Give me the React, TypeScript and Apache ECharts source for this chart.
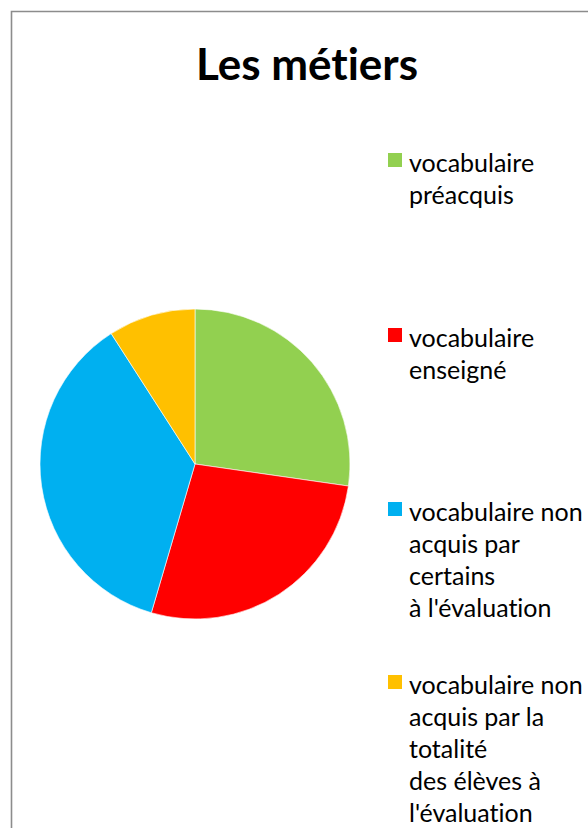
import React, { useEffect, useRef } from "react";
import * as echarts from "echarts";

const titleText = "Les métiers";
const categories = [
  "vocabulaire\npréacquis",
  "vocabulaire\nenseigné",
  "vocabulaire non\nacquis par\ncertains\nà l'évaluation",
  "vocabulaire non\nacquis par la\ntotalité\ndes élèves à\nl'évaluation",
];
const values = [12, 12, 16, 4];
const colors = ["#92D050", "#FF0000", "#00B0F0", "#FFC000"];
const iconTops = [153, 328, 502, 675];

const LINE_H = 32;
const ICON = 14;
const ICON_OFF = 7;

export default function App() {
  const ref = useRef<HTMLDivElement>(null);
  useEffect(() => {
    if (!ref.current) return;
    const chart = echarts.init(ref.current, undefined, { renderer: "svg" });
    const legends = categories.map((name, i) => {
      const n = name.split("\n").length;
      const h = n * LINE_H;
      return {
        data: [name],
        left: 388,
        top: iconTops[i] - ICON_OFF,
        orient: "vertical",
        padding: 0,
        itemWidth: ICON,
        itemHeight: h,
        icon: `path://M0,0L0,0M0,${ICON_OFF}H${ICON}V${ICON_OFF + ICON}H0ZM${ICON},${h}L${ICON},${h}`,
        itemStyle: { borderWidth: 0 },
        itemGap: 0,
        selectedMode: false,
        textStyle: {
          fontFamily: "Lato",
          fontSize: 25,
          lineHeight: LINE_H,
          color: "#000",
          padding: [0, 0, 0, 2],
        },
      };
    });
    chart.setOption({
      animation: false,
      backgroundColor: "#fff",
      color: colors,
      title: {
        text: titleText,
        left: 302,
        textAlign: "center",
        top: 36,
        textStyle: {
          fontFamily: "Lato",
          fontWeight: "bold",
          fontSize: 44,
          color: "#000",
        },
      },
      legend: legends,
      graphic: [
        {
          type: "rect",
          shape: { x: 11.5, y: 11.5, width: 700, height: 900 },
          style: { fill: "none", stroke: "#8c8c8c", lineWidth: 1.6 },
          silent: true,
        },
      ],
      series: [
        {
          type: "pie",
          center: [195, 464],
          radius: 155,
          startAngle: 90,
          clockwise: true,
          label: { show: false },
          labelLine: { show: false },
          emphasis: { disabled: true },
          itemStyle: { borderColor: "#fff", borderWidth: 0.6 },
          data: categories.map((name, i) => ({ name, value: values[i] })),
        },
      ],
    });
    return () => chart.dispose();
  }, []);
  return (
    <div
      ref={ref}
      style={{
        position: "absolute",
        left: 0,
        top: 0,
        width: 588,
        height: 828,
        fontVariantLigatures: "none",
        fontFeatureSettings: '"liga" 0, "clig" 0',
      }}
    />
  );
}
